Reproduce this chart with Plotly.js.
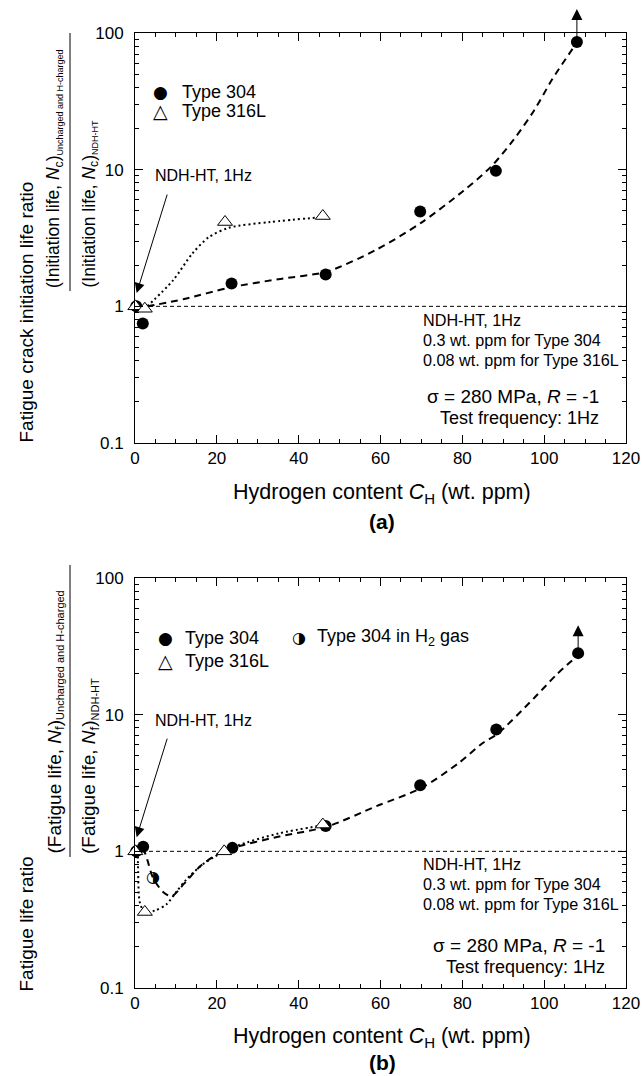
<!DOCTYPE html>
<html>
<head>
<meta charset="utf-8">
<script src="https://cdn.plot.ly/plotly-3.0.1.min.js"></script>
<style>html,body{margin:0;padding:0;background:#fff;}#chart{width:642px;height:1076px;}</style>
</head>
<body>
<div id="chart"></div>
<script>
// ---------------- data ----------------
// Panel (a): fatigue crack initiation life ratio
const a304X = [0.3, 1.9, 23.6, 46.6, 69.7, 88.2, 108];
const a304Y = [1.0, 0.75, 1.47, 1.71, 4.95, 9.8, 86];
const a316X = [0.08, 2.4, 22.0, 45.9];
const a316Y = [1.0, 0.96, 4.14, 4.58];
const aFit304X = [3, 12, 23, 35, 47, 59, 70, 80, 87, 92.5, 97.5, 102, 107.5];
const aFit304Y = [1.0, 1.13, 1.37, 1.58, 1.8, 2.6, 4.1, 6.9, 10.5, 16.5, 27.0, 46, 81];
const aFit316X = [3, 9.3, 14, 18, 23, 33, 46];
const aFit316Y = [1.0, 1.55, 2.43, 3.2, 3.76, 4.14, 4.5];

// Panel (b): fatigue life ratio
const b304X = [0.3, 2.0, 23.8, 46.6, 69.7, 88.3, 108.3];
const b304Y = [1.0, 1.08, 1.06, 1.53, 3.05, 7.78, 28.2];
const b316X = [0.08, 2.4, 21.8, 45.9];
const b316Y = [1.0, 0.36, 1.0, 1.57];
const bH2X = [4.4];
const bH2Y = [0.64];
const bFit304X = [2, 3, 4.4, 7, 9, 12, 16, 20, 24, 35, 47, 59, 70, 79, 85, 88.5, 97.5, 103, 107.5];
const bFit304Y = [1.06, 0.87, 0.64, 0.5, 0.47, 0.58, 0.78, 0.95, 1.06, 1.28, 1.52, 2.14, 2.91, 4.4, 6.2, 7.2, 13.2, 19.6, 26];
const bFit316X = [0.5, 0.7, 1.2, 2.4, 5, 7.7, 10, 12.5, 16.5, 21, 25, 35, 46];
const bFit316Y = [1.0, 0.85, 0.42, 0.36, 0.37, 0.41, 0.5, 0.62, 0.8, 0.97, 1.1, 1.35, 1.55];

// reference level (NDH-HT = 1)
const refX = [0, 120];
const refY = [1, 1];

// axis ticks
const xRange = [0, 120];
const yTickVals = [0.1, 1, 10, 100];
const yTickText = ['0.1', '1', '10', '100'];
const yMinorVals = [0.2,0.3,0.4,0.5,0.6,0.7,0.8,0.9,2,3,4,5,6,7,8,9,20,30,40,50,60,70,80,90];

// ---------------- layout helpers ----------------
const H = 1076, L = 135, R = 626;
const px = v => (v - L) / (R - L);
const py = v => 1 - v / H;
const FONT = 'Liberation Sans, Arial, Helvetica, sans-serif';

function xAxis(anchor) {
  return {
    anchor: anchor, domain: [0, 1], range: xRange, showgrid: false, zeroline: false,
    showline: true, linecolor: '#000', linewidth: 1, mirror: 'ticks',
    ticks: 'inside', ticklen: 8, tickwidth: 1, tickcolor: '#000', dtick: 20, tick0: 0,
    minor: {dtick: 5, tick0: 0, ticks: 'inside', ticklen: 4, tickwidth: 1, tickcolor: '#000', showgrid: false},
    tickfont: {family: FONT, size: 17, color: '#000'}, ticklabeloverflow: 'allow', automargin: false
  };
}
function yAxis(anchor, dom) {
  return {
    anchor: anchor, domain: dom, type: 'log', range: [-1, 2], showgrid: false, zeroline: false,
    showline: true, linecolor: '#000', linewidth: 1, mirror: 'ticks',
    ticks: 'inside', ticklen: 8, tickwidth: 1, tickcolor: '#000',
    tickmode: 'array', tickvals: yTickVals, ticktext: yTickText, ticklabelstandoff: 7,
    minor: {tickmode: 'array', tickvals: yMinorVals, ticks: 'inside', ticklen: 4, tickwidth: 1, tickcolor: '#000', showgrid: false},
    tickfont: {family: FONT, size: 17, color: '#000'}, ticklabeloverflow: 'allow', automargin: false
  };
}

function panelTraces(xa, ya, fit304X, fit304Y, fit316X, fit316Y, c304X, c304Y, t316X, t316Y) {
  return [
    {x: refX, y: refY, xaxis: xa, yaxis: ya, mode: 'lines', showlegend: false, hoverinfo: 'skip',
     line: {color: '#000', width: 1, dash: '4px,3px'}},
    {x: fit316X, y: fit316Y, xaxis: xa, yaxis: ya, mode: 'lines', showlegend: false,
     line: {color: '#000', width: 2, dash: '2px,3px', shape: 'spline', smoothing: 0.8}},
    {x: fit304X, y: fit304Y, xaxis: xa, yaxis: ya, mode: 'lines', showlegend: false,
     line: {color: '#000', width: 2, dash: '7px,5px', shape: 'spline', smoothing: 0.8}},
    {x: c304X, y: c304Y, xaxis: xa, yaxis: ya, mode: 'markers', name: 'Type 304', showlegend: false, cliponaxis: false,
     marker: {symbol: 'circle', size: 12, color: '#000'}},
    {x: t316X, y: t316Y, xaxis: xa, yaxis: ya, mode: 'markers', name: 'Type 316L', showlegend: false, cliponaxis: false,
     marker: {symbol: 'triangle-up', size: 13, color: '#fff', line: {color: '#000', width: 1}}}
  ];
}

const tracesA = panelTraces('x', 'y', aFit304X, aFit304Y, aFit316X, aFit316Y, a304X, a304Y, a316X, a316Y);
const tracesB = panelTraces('x2', 'y2', bFit304X, bFit304Y, bFit316X, bFit316Y, b304X, b304Y, b316X, b316Y);
// half-filled circle (Type 304 in H2 gas) drawn as a glyph, placed before the triangles
tracesB.splice(4, 0, {x: bH2X, y: bH2Y, xaxis: 'x2', yaxis: 'y2', mode: 'text', text: bH2X.map(() => '\u25D1'),
  textposition: 'middle center', cliponaxis: false, showlegend: false, name: 'Type 304 in H2 gas',
  textfont: {family: 'DejaVu Sans', size: 16, color: '#000'}});

function txt(x, y, text, size, opts) {
  return Object.assign({xref: 'paper', yref: 'paper', x: px(x), y: py(y), text: text, showarrow: false,
    font: {family: FONT, size: size, color: '#000'}, xanchor: 'left', yanchor: 'middle'}, opts || {});
}
function glyph(x, y, g, size) {
  return {xref: 'paper', yref: 'paper', x: px(x), y: py(y), text: g, showarrow: false,
    font: {family: 'DejaVu Sans', size: size, color: '#000'}, xanchor: 'center', yanchor: 'middle'};
}
function upArrow(xa, ya, x, y, len) {
  return {xref: xa, yref: ya, x: x, y: Math.log10(y), text: '', showarrow: true, ax: 0, ay: len, yshift: len,
    arrowhead: 2, arrowsize: 2.2, arrowwidth: 1, arrowcolor: '#000', standoff: 0, startstandoff: 0};
}
function ndhArrow(xa, ya, x, y) {
  return {xref: xa, yref: ya, x: x, y: Math.log10(y), text: '', showarrow: true, ax: 31, ay: -100,
    arrowhead: 2, arrowsize: 2, arrowwidth: 1, arrowcolor: '#000', standoff: 0};
}
const sub = (t, s) => '<sub><span style="font-size:' + s + 'px">' + t + '</span></sub>';

const annotations = [
  // ---- panel (a) ----
  glyph(160, 92, '\u25CF', 17), txt(180, 92, 'Type 304', 18),
  glyph(160, 111, '\u25B3', 19), txt(180, 111, 'Type 316L', 18),
  txt(153, 176, 'NDH-HT, 1Hz', 16),
  ndhArrow('x', 'y', 0.4, 1.25),
  upArrow('x', 'y', a304X[6], a304Y[6], 33),
  txt(421, 320, 'NDH-HT, 1Hz', 16.2),
  txt(421, 339.5, '0.3 wt. ppm for Type 304', 16.2),
  txt(421, 359.5, '0.08 wt. ppm for Type 316L', 16.2),
  txt(601, 397, '\u03C3 = 280 MPa, <i>R</i> = -1', 19, {xanchor: 'right'}),
  txt(601, 418, 'Test frequency: 1Hz', 18, {xanchor: 'right'}),
  txt(382, 493, 'Hydrogen content <i>C</i><sub>H</sub> (wt. ppm)', 21.5, {xanchor: 'center'}),
  txt(382, 521, '<b>(a)</b>', 21, {xanchor: 'center'}),
  txt(26, 445, 'Fatigue crack initiation life ratio', 19, {xanchor: 'center', yanchor: 'bottom', textangle: -90}),
  txt(68, 290, '(Initiation life, <i>N</i><sub>c</sub>)' + sub('Uncharged and H-charged', 9), 17.5, {xanchor: 'right', yanchor: 'bottom', textangle: -90}),
  txt(77, 290, '(Initiation life, <i>N</i><sub>c</sub>)' + sub('NDH-HT', 9), 17.5, {xanchor: 'left', yanchor: 'bottom', textangle: -90}),
  // ---- panel (b) ----
  glyph(165, 638, '\u25CF', 17), txt(183, 638, 'Type 304', 18),
  glyph(165, 661, '\u25B3', 19), txt(183, 661, 'Type 316L', 18),
  glyph(299, 637, '\u25D1', 16), txt(315, 637, 'Type 304 in H<sub>2</sub> gas', 18),
  txt(153, 720, 'NDH-HT, 1Hz', 16),
  ndhArrow('x2', 'y2', 0.4, 1.27),
  upArrow('x2', 'y2', b304X[6], b304Y[6], 28),
  txt(421, 864, 'NDH-HT, 1Hz', 16.2),
  txt(421, 883.5, '0.3 wt. ppm for Type 304', 16.2),
  txt(421, 903.5, '0.08 wt. ppm for Type 316L', 16.2),
  txt(607, 945, '\u03C3 = 280 MPa, <i>R</i> = -1', 19, {xanchor: 'right'}),
  txt(607, 967, 'Test frequency: 1Hz', 18, {xanchor: 'right'}),
  txt(382, 1037, 'Hydrogen content <i>C</i><sub>H</sub> (wt. ppm)', 21.5, {xanchor: 'center'}),
  txt(382, 1062, '<b>(b)</b>', 21, {xanchor: 'center'}),
  txt(26, 994, 'Fatigue life ratio', 19, {xanchor: 'center', yanchor: 'bottom', textangle: -90}),
  txt(69, 856, '(Fatigue life, <i>N</i><sub>f</sub>)' + sub('Uncharged and H-charged', 11), 19, {xanchor: 'right', yanchor: 'bottom', textangle: -90}),
  txt(76, 856, '(Fatigue life, <i>N</i><sub>f</sub>)' + sub('NDH-HT', 11), 19, {xanchor: 'left', yanchor: 'bottom', textangle: -90})
];

const shapes = [
  {type: 'line', xref: 'paper', yref: 'paper', x0: px(70), x1: px(70), y0: py(33), y1: py(291), line: {color: '#000', width: 1}},
  {type: 'line', xref: 'paper', yref: 'paper', x0: px(70), x1: px(70), y0: py(565), y1: py(857), line: {color: '#000', width: 1}}
];

const layout = {
  width: 642, height: 1076,
  margin: {l: L, r: 642 - R, t: 0, b: 0},
  paper_bgcolor: '#fff', plot_bgcolor: '#fff',
  font: {family: FONT, size: 16, color: '#000'},
  showlegend: false,
  xaxis: xAxis('y'),
  yaxis: yAxis('x', [py(443), py(33)]),
  xaxis2: xAxis('y2'),
  yaxis2: yAxis('x2', [py(988), py(578)]),
  annotations: annotations,
  shapes: shapes
};

Plotly.newPlot('chart', tracesA.concat(tracesB), layout, {staticPlot: true, displayModeBar: false});
</script>
</body>
</html>
